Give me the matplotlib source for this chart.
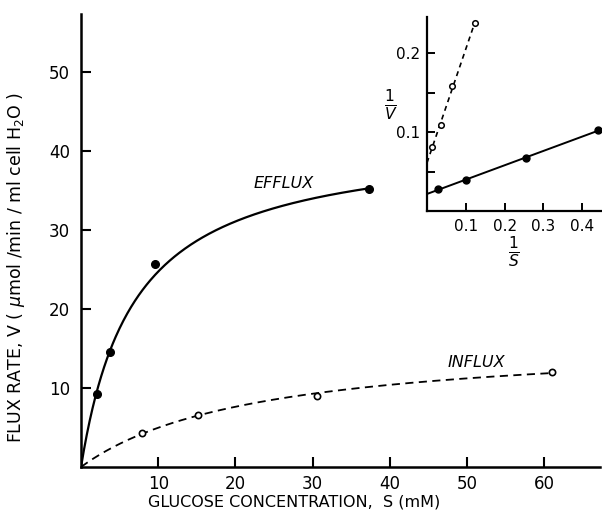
import numpy as np
import matplotlib
matplotlib.use("Agg")
import matplotlib.pyplot as plt

# main plot: glucose concentration (mM) vs flux rate
efflux_s = [2.1, 3.8, 9.6, 37.3]
efflux_v = [9.2, 14.6, 25.7, 35.1]
influx_s = [7.9, 15.2, 30.6, 61.0]
influx_v = [4.3, 6.6, 9.0, 12.0]

# inset: double reciprocal plot (1/S, 1/V)
efflux_inv_s = [0.028, 0.100, 0.256, 0.440]
efflux_inv_v = [0.028, 0.039, 0.067, 0.1025]
influx_inv_s = [0.013, 0.036, 0.065, 0.124]
influx_inv_v = [0.081, 0.109, 0.159, 0.239]

main_xticks = [10, 20, 30, 40, 50, 60]
main_yticks = [10, 20, 30, 40, 50]
inset_xticks = [0.1, 0.2, 0.3, 0.4]
inset_yticks = [0.05, 0.1, 0.15, 0.2]
inset_ylabels = ["", "0.1", "", "0.2"]

plt.rcParams['font.family'] = ['DejaVu Sans']


def mm_fit(s, v):
    # Hanes-Woolf: S/V = S/Vmax + Km/Vmax
    s = np.asarray(s)
    slope, icpt = np.polyfit(s, s / np.asarray(v), 1)
    return 1 / slope, icpt / slope


fig = plt.figure(figsize=(6.02, 5.16), dpi=100)
ax = fig.add_axes([0.1346, 0.095, 0.862, 0.878])

e_vmax, e_km = mm_fit(efflux_s, efflux_v)
i_vmax, i_km = mm_fit(influx_s, influx_v)

s = np.linspace(0, max(efflux_s), 300)
ax.plot(s, e_vmax * s / (e_km + s), color='black', lw=1.6)
s = np.linspace(0, max(influx_s), 300)
ax.plot(s, i_vmax * s / (i_km + s), color='black', lw=1.3, ls=(0, (4.5, 3)))

ax.plot(efflux_s, efflux_v, 'o', color='black', ms=5.5)
ax.plot(influx_s, influx_v, 'o', mfc='white', mec='black', mew=1.2, ms=4.5)

ax.set_xlim(0, 67.2)
ax.set_ylim(0, 57.3)
ax.set_xticks(main_xticks)
ax.set_yticks(main_yticks)
for side in ['top', 'right']:
    ax.spines[side].set_visible(False)
for side in ['left', 'bottom']:
    ax.spines[side].set_linewidth(1.8)
ax.tick_params(direction='in', length=7, width=1.5, labelsize=12)
ax.tick_params(axis='x', pad=6)
ax.tick_params(axis='y', pad=8)

ax.set_xlabel("GLUCOSE CONCENTRATION,  S (mM)", fontsize=11.5)
ax.xaxis.set_label_coords(0.41, -0.06)
ax.set_ylabel(r"FLUX RATE, V ( $\mu$mol /min / ml cell H$_2$O )", fontsize=12.5)
ax.yaxis.set_label_coords(-0.105, 0.44)

ax.text(26.2, 35.8, "EFFLUX", fontsize=11.5, style='italic', ha='center', va='center')
ax.text(51.2, 13.2, "INFLUX", fontsize=11.5, style='italic', ha='center', va='center')

# inset
ins = fig.add_axes([0.7093, 0.591, 0.29, 0.376])
x = np.linspace(0, max(efflux_inv_s), 10)
e_slope, e_icpt = np.polyfit(efflux_inv_s, efflux_inv_v, 1)
ins.plot(x, e_slope * x + e_icpt, color='black', lw=1.4)
x = np.linspace(0, max(influx_inv_s), 10)
i_slope, i_icpt = np.polyfit(influx_inv_s, influx_inv_v, 1)
ins.plot(x, i_slope * x + i_icpt, color='black', lw=1.2, ls=(0, (3, 2.5)))
ins.plot(efflux_inv_s, efflux_inv_v, 'o', color='black', ms=5)
ins.plot(influx_inv_s, influx_inv_v, 'o', mfc='white', mec='black', mew=1.1, ms=4)

ins.set_xlim(0, 0.45)
ins.set_ylim(0, 0.246)
ins.set_xticks(inset_xticks)
ins.set_yticks(inset_yticks)
ins.set_yticklabels(inset_ylabels)
ins.set_facecolor('none')
for side in ['top', 'right']:
    ins.spines[side].set_visible(False)
for side in ['left', 'bottom']:
    ins.spines[side].set_linewidth(1.6)
ins.tick_params(direction='in', length=6, width=1.4, labelsize=11)
ins.tick_params(axis='x', pad=6)
ins.tick_params(axis='y', pad=5)
ins.set_xlabel(r"$\frac{1}{S}$", fontsize=16, labelpad=0)
ins.set_ylabel(r"$\frac{1}{V}$", fontsize=16, rotation=0, va='center')
ins.yaxis.set_label_coords(-0.21, 0.55)

fig.savefig("out.png", dpi=100)
